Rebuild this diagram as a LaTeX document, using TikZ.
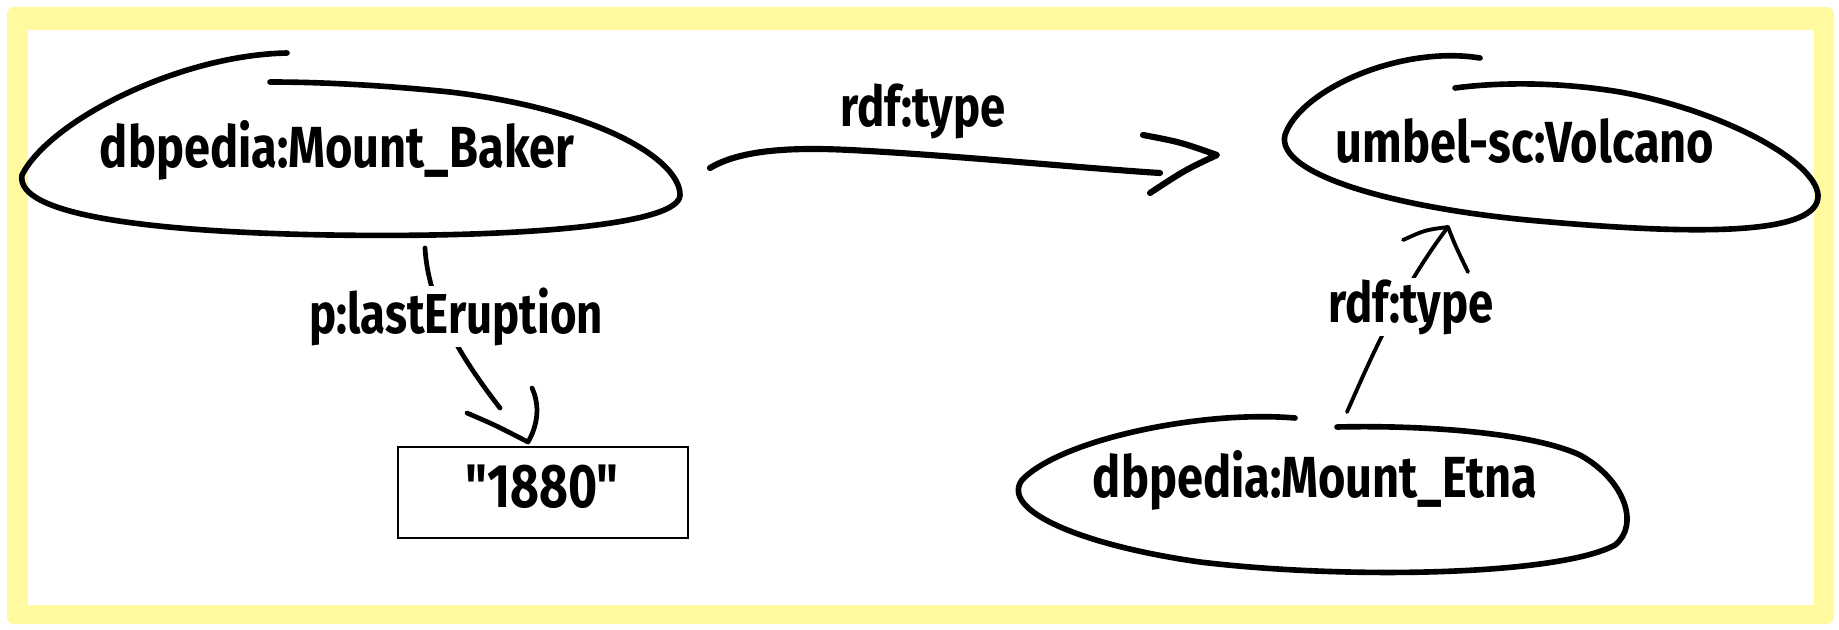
\documentclass[tikz,border=0pt]{standalone}
\usepackage{fontspec}
\newfontfamily\hand[FakeStretch=0.81]{Fira Sans}
\definecolor{framey}{RGB}{255,249,160}
\tikzset{
  sketch/.style={line width=3.2pt, line cap=round, line join=round},
  thinsketch/.style={line width=2.2pt, line cap=round, line join=round},
  nodetext/.style={font=\hand\bfseries\fontsize{33}{38}\selectfont, inner sep=0pt, anchor=base},
  edgelabel/.style={font=\hand\bfseries\fontsize{32}{36}\selectfont, inner sep=1pt, anchor=base, fill=white},
  literal/.style={draw, line width=1.2pt, minimum width=5.8cm, minimum height=1.82cm, inner sep=0pt},
}
\begin{document}
\begin{tikzpicture}[x=0.02cm, y=-0.02cm]
\useasboundingbox (0,0) rectangle (1839,629);
% frame
\fill[framey, rounded corners=4] (7,7) rectangle (1834,624);
\fill[white] (28,30) rectangle (1814,605);

% nodes (texts)
\node[nodetext] (baker) at (337,167) {dbpedia:Mount\_Baker};
\node[nodetext] (volcano) at (1525,162) {umbel-sc:Volcano};
\node[nodetext] (etna) at (1315,497) {dbpedia:Mount\_Etna};
\node[literal] (lit) at (543,492.5) {};
\node[font=\hand\bfseries\fontsize{35}{40}\selectfont, inner sep=0pt, anchor=base] (littext) at (542,507) {"1880"};

% hand-drawn ellipses
\draw[sketch] (287,53) .. controls (180,55) and (50,120) .. (22,175)
  .. controls (15,215) and (150,232) .. (330,235)
  .. controls (520,238) and (680,225) .. (680,195)
  .. controls (680,160) and (600,110) .. (450,92)
  .. controls (380,85) and (320,82) .. (270,82);
\draw[sketch] (1480,58) .. controls (1400,45) and (1300,90) .. (1285,135)
  .. controls (1275,175) and (1400,210) .. (1550,222)
  .. controls (1700,235) and (1820,235) .. (1818,195)
  .. controls (1815,160) and (1720,110) .. (1620,92)
  .. controls (1560,82) and (1500,82) .. (1455,88);
\draw[sketch] (1295,418) .. controls (1200,410) and (1060,440) .. (1022,480)
  .. controls (1000,510) and (1080,545) .. (1200,562)
  .. controls (1350,580) and (1560,575) .. (1615,545)
  .. controls (1640,525) and (1625,480) .. (1580,455)
  .. controls (1530,432) and (1420,425) .. (1337,427);

% connector endpoints
\coordinate (a1s) at (710,168);
\coordinate (a1e) at (1160,173);
\coordinate (a1t) at (1217,155);
\coordinate (a2s) at (425,248);
\coordinate (a2e) at (500,408);
\coordinate (a2t) at (528,442);
\coordinate (a3s) at (1347,412);
\coordinate (a3t) at (1448,227);

% baker -> volcano
\draw[sketch, line width=3.5pt] (a1s) .. controls (740,150) and (790,147) .. (850,150)
  .. controls (950,155) and (1080,168) .. (a1e);
\draw[sketch, line width=3.5pt] (1143,135) .. controls (1180,142) .. (a1t) .. controls (1185,170) .. (1150,193);
\node[edgelabel] (l1) at (923,126) {rdf:type};

% baker -> 1880
\draw[sketch, line width=2.7pt] (a2s) .. controls (428,300) and (455,350) .. (a2e);
\draw[sketch, line width=2.7pt] (467,413) .. controls (495,425) .. (a2t) .. controls (538,425) and (540,405) .. (532,388);
\node[edgelabel] (l2) at (456,333) {p:lastEruption};

% etna -> volcano
\draw[thinsketch] (a3s) .. controls (1370,360) and (1400,290) .. (a3t);
\draw[thinsketch] (1403,240) .. controls (1425,230) .. (a3t) .. controls (1455,245) .. (1468,272);
\node[edgelabel] (l3) at (1411,322) {rdf:type};
\end{tikzpicture}
\end{document}
